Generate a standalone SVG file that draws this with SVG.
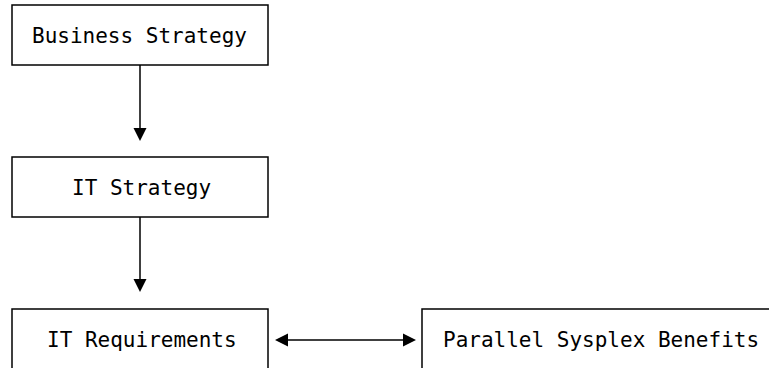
<svg xmlns="http://www.w3.org/2000/svg" width="769" height="368" viewBox="0 0 769 368">
<style>
.box{fill:#fff;stroke:#000;stroke-width:1.5}
.t{font-family:"DejaVu Sans Mono","Liberation Mono",monospace;font-size:21px;fill:#000}
.c{stroke:#000;stroke-width:1.5;fill:none}
.h{fill:#000;stroke:none}
</style>
<rect width="769" height="368" fill="#fff"/>
<g id="business-strategy">
<rect class="box" x="12" y="5" width="256" height="60"/>
<text class="t" x="32" y="43">Business Strategy</text>
</g>
<g id="it-strategy">
<rect class="box" x="12" y="157" width="256" height="60"/>
<text class="t" x="72" y="195">IT Strategy</text>
</g>
<g id="it-requirements">
<rect class="box" x="12" y="309" width="256" height="70"/>
<text class="t" x="47" y="347">IT Requirements</text>
</g>
<g id="parallel-sysplex-benefits">
<rect class="box" x="422" y="309" width="360" height="70"/>
<text class="t" x="443" y="347">Parallel Sysplex Benefits</text>
</g>
<g id="connectors">
<line class="c" x1="140" y1="65" x2="140" y2="130"/>
<polygon class="h" points="133.5,128 146.5,128 140,141"/>
<line class="c" x1="140" y1="217" x2="140" y2="281"/>
<polygon class="h" points="133.5,279 146.5,279 140,292"/>
<line class="c" x1="285" y1="340" x2="406" y2="340"/>
<polygon class="h" points="275,340 288,333.5 288,346.5"/>
<polygon class="h" points="416,340 403,333.5 403,346.5"/>
</g>
</svg>
